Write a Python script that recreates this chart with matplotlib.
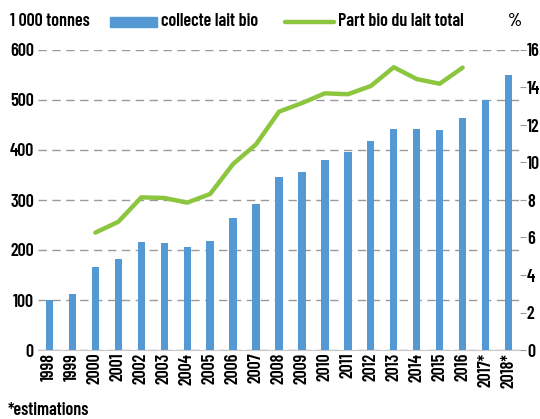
import matplotlib.pyplot as plt
import numpy as np

plt.rcParams['font.family'] = ['Barlow Condensed', 'DejaVu Sans']
plt.rcParams['font.weight'] = 600

years = ['1998', '1999', '2000', '2001', '2002', '2003', '2004', '2005', '2006', '2007',
         '2008', '2009', '2010', '2011', '2012', '2013', '2014', '2015', '2016', '2017*', '2018*']
collecte = [101, 113, 166, 182, 215, 214, 205, 218, 263, 292,
            345, 355, 380, 395, 417, 441, 441, 439, 464, 499, 549]
part_bio = [6.26, 6.84, 8.14, 8.11, 7.86, 8.32, 9.92, 10.97,
            12.71, 13.17, 13.69, 13.64, 14.08, 15.08, 14.45, 14.2, 15.06]

blue = '#5599d4'
green = '#8cc63f'
fs = 13

fig = plt.figure(figsize=(5.4, 4.19), dpi=100)
ax = fig.add_axes([38/540, 1-350/419, 482/540, 300/419])
ax2 = ax.twinx()

x = np.arange(len(years))
ax.bar(x, collecte, width=0.32, color=blue, zorder=3)
ax.set_ylim(0, 600)
ax.set_xlim(-0.5, len(years)-0.5)
ax.set_yticks(range(0, 601, 100))
ax.yaxis.grid(True, linestyle=(0, (6, 4)), color='#9a9a9a', linewidth=1)
ax.set_axisbelow(True)
ax.set_xticks(x)
ax.set_xticklabels(years, rotation=90, fontsize=fs)
ax.tick_params(axis='x', length=0, pad=2)
ax.tick_params(axis='y', length=0, labelsize=fs, pad=3)
for s in ['top', 'right', 'left']:
    ax.spines[s].set_visible(False)
ax.spines['bottom'].set_color('#c8c8c8')

# part bio starts in 2000 and stops in 2016
px = np.arange(2, 2 + len(part_bio))
ax2.plot(px, part_bio, color=green, linewidth=3.2, solid_capstyle='round', zorder=4)
ax2.set_ylim(0, 16)
ax2.set_yticks(range(0, 17, 2))
ax2.tick_params(axis='y', length=4, color='#9a9a9a', labelsize=fs, pad=1)
for s in ['top', 'right', 'left', 'bottom']:
    ax2.spines[s].set_visible(False)

fig.text(10/540, 1-21/419, '1 000 tonnes', fontsize=fs, va='center', ha='left')
fig.text(508/540, 1-21/419, '%', fontsize=fs, va='center', ha='left')
fig.patches.append(plt.Rectangle((110/540, 1-27/419), 47/540, 10/419,
                                 transform=fig.transFigure, color=blue))
fig.text(161/540, 1-21/419, 'collecte lait bio', fontsize=fs, va='center', ha='left')
fig.lines.append(plt.Line2D([285/540, 334/540], [1-22/419, 1-22/419],
                            transform=fig.transFigure, color=green, linewidth=3.2,
                            solid_capstyle='round'))
fig.text(338/540, 1-21/419, 'Part bio du lait total', fontsize=fs, va='center', ha='left')
fig.text(8/540, 1-410/419, '*estimations', fontsize=fs, va='center', ha='left')

fig.savefig('out.png', dpi=100)
